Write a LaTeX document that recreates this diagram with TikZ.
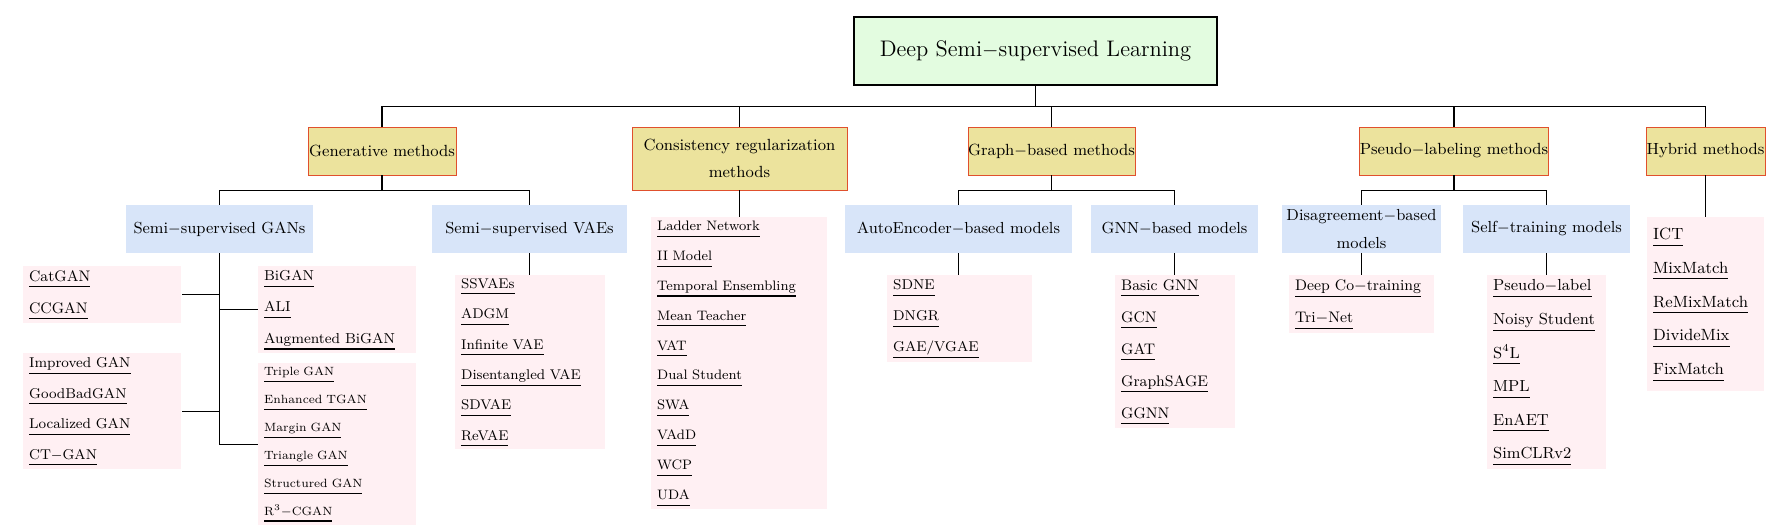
\documentclass[tikz,border=0pt]{standalone}
\usepackage{amsmath,amssymb}
\usepackage{xcolor}
\usepackage{tikz}
\usetikzlibrary{positioning,calc}
\definecolor{rootfill}{HTML}{E3FCE0}
\definecolor{methodfill}{HTML}{ECE39D}
\definecolor{methoddraw}{HTML}{E0502D}
\definecolor{familyfill}{HTML}{D8E5F9}
\definecolor{listfill}{HTML}{FFF0F3}
% underlined model name, line at a fixed depth
\newcommand{\mdl}[1]{\leavevmode\vtop{\hbox{\smash[b]{#1}}\kern2.9pt\hrule height 0.6pt}}

\begin{document}
\begin{tikzpicture}[
    rootbox/.style={rectangle, draw, fill=rootfill, line width=0.7pt, font=\fontsize{12.8}{15}\selectfont, minimum width=7.26cm, minimum height=1.36cm},
    methodbox/.style={rectangle, draw=methoddraw, fill=methodfill, line width=0.55pt, inner sep=0pt, font=\fontsize{9.2}{15.8}\selectfont, minimum height=0.96cm},
    familybox/.style={rectangle, fill=familyfill, inner sep=0pt, font=\fontsize{9.1}{15.9}\selectfont, minimum height=0.96cm},
    modellist/.style 2 args={rectangle, fill=listfill, anchor=north west, inner xsep=3.3pt, inner ysep=0pt, align=left, font=\fontsize{#1}{#2}\selectfont},
    branch/.style={draw, line width=0.6pt}]
    \useasboundingbox (0,0) rectangle (35.44,-10.62);

    % root and the five families of methods
    \node[rootbox] (root) at (20.71,-1.02) {Deep Semi$-$supervised Learning};
    \node[methodbox, minimum width=2.96cm] (gen) at (7.64,-3.02) {Generative methods};
    \node[methodbox, minimum width=4.30cm, minimum height=1.26cm, text width=4.0cm, align=center] (cons) at (14.79,-3.17) {Consistency regularization\\methods};
    \node[methodbox, minimum width=3.34cm] (graph) at (21.03,-3.02) {Graph$-$based methods};
    \node[methodbox, minimum width=3.72cm] (pseudo) at (29.08,-3.02) {Pseudo$-$labeling methods};
    \node[methodbox, minimum width=2.38cm] (hybrid) at (34.11,-3.02) {Hybrid methods};

    % sub-families
    \node[familybox, minimum width=3.74cm] (gans) at (4.39,-4.58) {Semi$-$supervised GANs};
    \node[familybox, minimum width=3.90cm] (vaes) at (10.59,-4.58) {Semi$-$supervised VAEs};
    \node[familybox, minimum width=4.54cm] (ae) at (19.17,-4.58) {AutoEncoder$-$based models};
    \node[familybox, minimum width=3.34cm] (gnn) at (23.49,-4.58) {GNN$-$based models};
    \node[familybox, minimum width=3.18cm, text width=3.18cm, align=center] (disagree) at (27.23,-4.58) {Disagreement$-$based\\models};
    \node[familybox, minimum width=3.34cm] (selftrain) at (30.93,-4.58) {Self$-$training models};

    % lists of models
    \node[modellist={8.7pt}{18.2pt}, text width=2.93cm, minimum height=1.14cm] (catgan) at (0.46,-5.32) {\mdl{CatGAN}\\\mdl{CCGAN}};
    \node[modellist={8.1pt}{17.4pt}, text width=2.93cm, minimum height=2.32cm] (improved) at (0.46,-7.06) {\mdl{Improved GAN}\\\mdl{GoodBadGAN}\\\mdl{Localized GAN}\\\mdl{CT$-$GAN}};
    \node[modellist={8.2pt}{17.9pt}, text width=2.93cm, minimum height=1.74cm] (bigan) at (5.16,-5.32) {\mdl{BiGAN}\\\mdl{ALI}\\\mdl{Augmented BiGAN}};
    \node[modellist={6.8pt}{15.9pt}, text width=2.93cm, minimum height=3.24cm] (triple) at (5.16,-7.26) {\mdl{Triple GAN}\\\mdl{Enhanced TGAN}\\\mdl{Margin GAN}\\\mdl{Triangle GAN}\\\mdl{Structured GAN}\\\mdl{R$^3$$-$CGAN}};
    \node[modellist={8.0pt}{17.3pt}, text width=2.77cm, minimum height=3.48cm] (ssvae) at (9.10,-5.50) {\mdl{SSVAEs}\\\mdl{ADGM}\\\mdl{Infinite VAE}\\\mdl{Disentangled VAE}\\\mdl{SDVAE}\\\mdl{ReVAE}};
    \node[modellist={7.8pt}{17.0pt}, text width=3.29cm, minimum height=5.84cm] (ladder) at (13.02,-4.34) {\mdl{Ladder Network}\\\mdl{II Model}\\\mdl{Temporal Ensembling}\\\mdl{Mean Teacher}\\\mdl{VAT}\\\mdl{Dual Student}\\\mdl{SWA}\\\mdl{VAdD}\\\mdl{WCP}\\\mdl{UDA}};
    \node[modellist={8.1pt}{17.6pt}, text width=2.67cm, minimum height=1.74cm] (sdne) at (17.74,-5.50) {\mdl{SDNE}\\\mdl{DNGR}\\\mdl{GAE/VGAE}};
    \node[modellist={8.7pt}{18.2pt}, text width=2.17cm, minimum height=3.06cm] (basicgnn) at (22.30,-5.50) {\mdl{Basic GNN}\\\mdl{GCN}\\\mdl{GAT}\\\mdl{GraphSAGE}\\\mdl{GGNN}};
    \node[modellist={8.7pt}{18.2pt}, text width=2.67cm, minimum height=1.16cm] (deepco) at (25.78,-5.50) {\mdl{Deep Co$-$training}\\\mdl{Tri$-$Net}};
    \node[modellist={9.1pt}{19.1pt}, text width=2.15cm, minimum height=3.88cm] (pseudolabel) at (29.74,-5.50) {\mdl{Pseudo$-$label}\\\mdl{Noisy Student}\\\mdl{S$^4$L}\\\mdl{MPL}\\\mdl{EnAET}\\\mdl{SimCLRv2}};
    \node[modellist={9.25pt}{19.2pt}, text width=2.11cm, minimum height=3.48cm] (ict) at (32.94,-4.34) {\mdl{ICT}\\\mdl{MixMatch}\\\mdl{ReMixMatch}\\\mdl{DivideMix}\\\mdl{FixMatch}};

    % forks
    \coordinate[below=0.42cm of root.south] (rootfork);
    \draw[branch] (root.south) -- (rootfork);
    \foreach \n in {gen,cons,graph,pseudo,hybrid}
        \draw[branch] (rootfork) -| (\n.north);
    \coordinate[below=0.30cm of gen.south] (genfork);
    \draw[branch] (gen.south) -- (genfork);
    \foreach \n in {gans,vaes}
        \draw[branch] (genfork) -| (\n.north);
    \coordinate[below=0.30cm of graph.south] (graphfork);
    \draw[branch] (graph.south) -- (graphfork);
    \foreach \n in {ae,gnn}
        \draw[branch] (graphfork) -| (\n.north);
    \coordinate[below=0.30cm of pseudo.south] (pseudofork);
    \draw[branch] (pseudo.south) -- (pseudofork);
    \foreach \n in {disagree,selftrain}
        \draw[branch] (pseudofork) -| (\n.north);

    % GAN trunk with lists on both sides
    \draw[branch] (gans.south) |- (triple.west);
    \draw[branch] (gans.south) |- (catgan.east);
    \draw[branch] (gans.south) |- (bigan.west);
    \draw[branch] (gans.south) |- (improved.east);

    % stems down to the lists
    \draw[branch] (cons.south) -- (cons.south |- ladder.north);
    \draw[branch] (hybrid.south) -- (hybrid.south |- ict.north);
    \draw[branch] (vaes.south) -- (vaes.south |- ssvae.north);
    \draw[branch] (ae.south) -- (ae.south |- sdne.north);
    \draw[branch] (gnn.south) -- (gnn.south |- basicgnn.north);
    \draw[branch] (disagree.south) -- (disagree.south |- deepco.north);
    \draw[branch] (selftrain.south) -- (selftrain.south |- pseudolabel.north);
\end{tikzpicture}
\end{document}
